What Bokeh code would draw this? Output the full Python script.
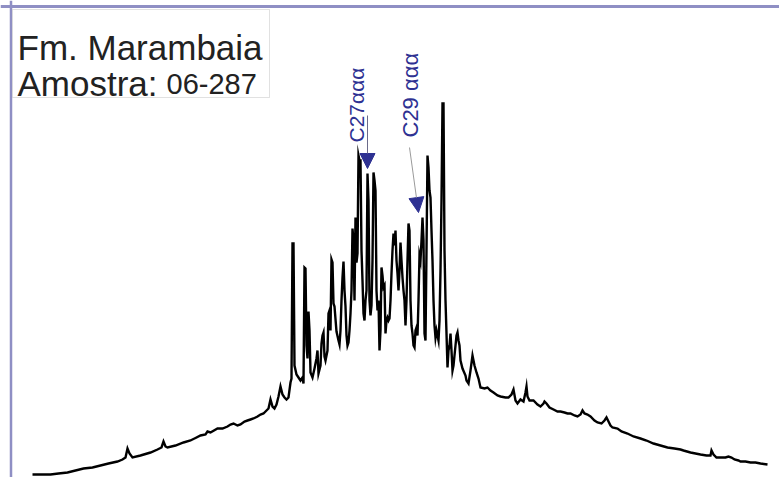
from bokeh.plotting import figure
from bokeh.models import Range1d, Span, BoxAnnotation, Label, Arrow, NormalHead
from bokeh.embed import file_html
from bokeh.resources import INLINE

# Chromatogram (retention position, relative abundance)
time = [32, 40, 50, 58, 67, 75, 83, 92, 100, 108, 117, 122, 125, 127, 129, 132, 140, 150, 157, 161,
        163, 165, 167, 175, 183, 190, 196, 200, 205, 207, 210, 217, 222, 227, 230, 233, 237, 240, 244, 247,
        250, 253, 257, 260, 263, 266, 268, 270, 272, 274, 276, 278, 280, 282, 284, 286, 288, 290, 291, 292,
        293, 294, 296, 298, 300, 302, 303, 304, 305, 306, 307, 308, 309, 310, 312, 314, 316, 317, 318, 320,
        321, 322, 323, 324, 325, 327, 328, 329, 330, 331, 332, 333, 334, 336, 338, 339, 340, 341, 342, 343,
        344, 345, 346, 347, 348, 349, 350, 351, 352, 353, 354, 355, 356, 357, 358, 359, 360, 361, 362, 363,
        364, 365, 366, 367, 368, 369, 370, 371, 372, 373, 374, 375, 376, 377, 378, 379, 380, 381, 382, 383,
        384, 385, 386, 387, 388, 389, 390, 391, 392, 393, 394, 395, 396, 397, 398, 399, 400, 401, 402, 403,
        404, 405, 406, 407, 408, 409, 410, 411, 412, 413, 414, 415, 416, 417, 418, 419, 420, 421, 422, 423,
        424, 425, 426, 427, 428, 429, 430, 431, 432, 433, 434, 435, 436, 437, 438, 439, 440, 441, 442, 443,
        444, 445, 446, 447, 448, 449, 450, 451, 452, 453, 454, 455, 456, 457, 458, 459, 460, 462, 465, 466,
        468, 470, 472, 474, 476, 478, 480, 484, 487, 490, 493, 497, 500, 505, 508, 511, 513, 515, 517, 520,
        523, 525, 526, 527, 529, 533, 537, 540, 543, 544, 546, 549, 553, 557, 560, 564, 567, 570, 574, 577,
        580, 582, 584, 587, 590, 594, 597, 601, 604, 606, 608, 610, 612, 617, 621, 627, 633, 640, 646, 653,
        660, 667, 674, 680, 683, 690, 695, 700, 706, 710, 711, 713, 716, 720, 725, 728, 731, 734, 738, 740,
        745, 750, 755, 760, 767]
signal = [3, 3, 3, 4, 5, 7, 9, 10, 12, 14, 16, 18, 20, 29, 24, 20, 22, 25, 28, 30,
          36, 31, 30, 32, 35, 37, 40, 42, 43, 46, 45, 49, 49, 51, 53, 54, 52, 53, 56, 57,
          58, 59, 61, 63, 64, 67, 69, 78, 71, 69, 73, 81, 91, 83, 80, 78, 80, 95, 99, 234,
          234, 112, 103, 100, 97, 100, 94, 210, 209, 132, 119, 166, 147, 105, 100, 109, 119, 127, 104, 112,
          134, 142, 145, 121, 117, 127, 164, 167, 147, 218, 215, 174, 171, 146, 137, 133, 147, 177, 200, 216,
          187, 171, 142, 132, 135, 147, 164, 187, 249, 237, 177, 260, 215, 224, 322, 317, 317, 227, 197, 164,
          157, 177, 187, 304, 277, 177, 162, 172, 217, 305, 297, 287, 187, 167, 177, 127, 147, 210, 202, 190,
          192, 144, 157, 160, 157, 159, 177, 204, 227, 244, 232, 247, 217, 204, 187, 207, 235, 217, 200, 187,
          177, 152, 177, 217, 254, 247, 177, 152, 144, 132, 130, 147, 150, 142, 177, 222, 217, 237, 260, 237,
          144, 137, 227, 322, 310, 287, 280, 247, 217, 177, 152, 140, 147, 142, 137, 157, 207, 277, 374, 374,
          227, 177, 144, 110, 127, 132, 144, 127, 107, 112, 122, 132, 142, 145, 137, 132, 117, 109, 102, 97,
          94, 107, 122, 112, 105, 99, 90, 89, 90, 87, 85, 82, 81, 80, 80, 83, 88, 77, 74, 78,
          76, 85, 91, 81, 77, 77, 73, 71, 74, 76, 74, 70, 68, 66, 66, 65, 64, 64, 62, 61,
          63, 67, 64, 63, 61, 57, 55, 54, 57, 60, 56, 52, 50, 49, 46, 44, 41, 39, 37, 34,
          32, 30, 29, 28, 27, 25, 24, 23, 22, 22, 27, 23, 20, 20, 20, 21, 20, 18, 17, 16,
          16, 15, 15, 14, 13]

title_line1 = "Fm. Marambaia"
title_line2a = "Amostra:"
title_line2b = "06-287"
peak_labels = ["C27ααα", "C29 ααα"]

NAVY = "#2e3192"
FRAME = "#8f8fc4"

p = figure(width=779, height=477, output_backend="svg", toolbar_location=None,
           x_range=Range1d(0, 779), y_range=Range1d(0, 477),
           min_border=0, min_border_left=0, min_border_right=0,
           min_border_top=0, min_border_bottom=0)
p.axis.visible = False
p.grid.visible = False
p.outline_line_color = None
p.background_fill_color = "white"
p.border_fill_color = "white"

# frame (top and left only)
p.add_layout(Span(location=471, dimension="width", line_color=FRAME, line_width=3))
p.add_layout(Span(location=10.5, dimension="height", line_color=FRAME, line_width=2.5))

# chromatogram
p.line(time, signal, line_color="black", line_width=2.4, line_join="miter")

# sample box
p.add_layout(BoxAnnotation(left=12, right=269, top=468, bottom=380,
                           fill_color="white", fill_alpha=1.0,
                           line_color="#9a9a9a", line_width=1))
p.add_layout(Label(x=17, y=430, text=title_line1, text_font="Liberation Sans",
                   text_font_size="35px", text_color="#222222", text_baseline="alphabetic"))
p.add_layout(Label(x=17, y=394, text=title_line2a, text_font="Liberation Sans",
                   text_font_size="35px", text_color="#222222", text_baseline="alphabetic"))
p.add_layout(Label(x=166, y=394, text=title_line2b, text_font="Liberation Sans",
                   text_font_size="29px", text_color="#222222", text_baseline="alphabetic"))

# peak annotations
p.add_layout(Label(x=356, y=335, text=peak_labels[0], angle=90, angle_units="deg",
                   text_align="left", text_baseline="middle", text_font="Liberation Sans",
                   text_font_size="21px", text_color=NAVY))
p.add_layout(Label(x=410, y=340, text=peak_labels[1], angle=90, angle_units="deg",
                   text_align="left", text_baseline="middle", text_font="Liberation Sans",
                   text_font_size="22px", text_color=NAVY))

p.add_layout(Arrow(end=NormalHead(size=15, fill_color=NAVY, line_color=NAVY),
                   x_start=367, y_start=362, x_end=367, y_end=309,
                   line_color="#6a6a8a", line_width=1))
p.add_layout(Arrow(end=NormalHead(size=15, fill_color=NAVY, line_color=NAVY),
                   x_start=409, y_start=330, x_end=418, y_end=265,
                   line_color="#9a9a9a", line_width=1))

open("out.html", "w").write(file_html(p, INLINE))
